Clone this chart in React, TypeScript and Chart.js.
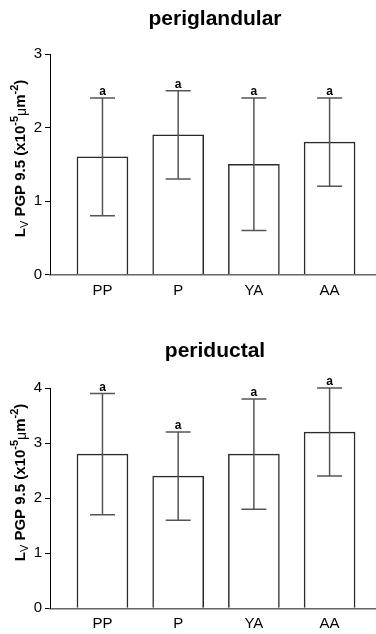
import React, { useEffect, useRef } from "react";
import { Chart, registerables } from "chart.js";

Chart.register(...registerables);

const categories = ["PP", "P", "YA", "AA"];

const periglandularMeans = [1.6, 1.9, 1.5, 1.8];
const periglandularLow = [0.8, 1.3, 0.6, 1.2];
const periglandularHigh = [2.4, 2.5, 2.4, 2.4];
const periglandularLetters = ["a", "a", "a", "a"];
const periglandularTicks = [0, 1, 2, 3];

const periductalMeans = [2.8, 2.4, 2.8, 3.2];
const periductalLow = [1.7, 1.6, 1.8, 2.4];
const periductalHigh = [3.9, 3.2, 3.8, 4.0];
const periductalLetters = ["a", "a", "a", "a"];
const periductalTicks = [0, 1, 2, 3, 4];

const FONT = '"Liberation Sans", Arial, Helvetica, sans-serif';

type PanelProps = {
  title: string;
  means: number[];
  lows: number[];
  highs: number[];
  letters: string[];
  ticks: number[];
  height: number;
  chartTop: number;
  chartBottom: number;
  titleBaseline: number;
  yTitleCenter: number;
};

function drawYTitle(ctx: CanvasRenderingContext2D, cx: number, cy: number) {
  const big = 15;
  const small = 11;
  const segs = [
    { t: "L", font: `bold ${big}px ${FONT}`, dy: 0 },
    { t: "V", font: `${small}px ${FONT}`, dy: 3 },
    { t: " PGP 9.5 (x10", font: `bold ${big}px ${FONT}`, dy: 0 },
    { t: "-5", font: `bold ${small}px ${FONT}`, dy: -7 },
    { t: "\u03bc", font: `${big - 1}px ${FONT}`, dy: 1 },
    { t: "m", font: `bold ${big}px ${FONT}`, dy: 0 },
    { t: "-2", font: `bold ${small}px ${FONT}`, dy: -7 },
    { t: ")", font: `bold ${big}px ${FONT}`, dy: 0 },
  ];
  ctx.save();
  let total = 0;
  const widths = segs.map((s) => {
    ctx.font = s.font;
    const w = ctx.measureText(s.t).width;
    total += w;
    return w;
  });
  ctx.translate(cx, cy);
  ctx.rotate(-Math.PI / 2);
  ctx.fillStyle = "#000";
  ctx.textBaseline = "alphabetic";
  ctx.textAlign = "left";
  let x = -total / 2;
  segs.forEach((s, i) => {
    ctx.font = s.font;
    ctx.fillText(s.t, x, s.dy);
    x += widths[i];
  });
  ctx.restore();
}

function BarPanel(props: PanelProps) {
  const ref = useRef<HTMLCanvasElement | null>(null);
  useEffect(() => {
    const canvas = ref.current;
    if (!canvas) return;
    const {
      title, means, lows, highs, letters, ticks, height,
      chartTop, chartBottom, titleBaseline, yTitleCenter,
    } = props;

    const overlay = {
      id: "overlay",
      afterDatasetsDraw(chart: any) {
        const ctx = chart.ctx as CanvasRenderingContext2D;
        const xs = chart.scales.x;
        const ys = chart.scales.y;
        ctx.save();
        ctx.strokeStyle = "#555";
        ctx.lineWidth = 1.5;
        means.forEach((_, i) => {
          const px = xs.getPixelForValue(i);
          const yl = ys.getPixelForValue(lows[i]);
          const yh = ys.getPixelForValue(highs[i]);
          ctx.beginPath();
          ctx.moveTo(px, yl);
          ctx.lineTo(px, yh);
          ctx.moveTo(px - 12.5, yh);
          ctx.lineTo(px + 12.5, yh);
          ctx.moveTo(px - 12.5, yl);
          ctx.lineTo(px + 12.5, yl);
          ctx.stroke();
          ctx.fillStyle = "#000";
          ctx.font = `bold 12px ${FONT}`;
          ctx.textAlign = "center";
          ctx.textBaseline = "alphabetic";
          ctx.fillText(letters[i], px, yh - 3);
        });
        ctx.restore();
      },
      afterDraw(chart: any) {
        const ctx = chart.ctx as CanvasRenderingContext2D;
        ctx.save();
        ctx.fillStyle = "#000";
        ctx.font = `bold 21px ${FONT}`;
        ctx.textAlign = "center";
        ctx.textBaseline = "alphabetic";
        ctx.fillText(title, 215, titleBaseline);
        ctx.restore();
        drawYTitle(ctx, 25, yTitleCenter);
      },
    };

    const chart = new Chart(canvas, {
      type: "bar",
      data: {
        datasets: [
          {
            data: means.map((v, i) => ({ x: i, y: v })),
            backgroundColor: "#ffffff",
            borderColor: "#2a2a2a",
            borderWidth: 1.5,
            barThickness: 51,
          },
        ],
      },
      options: {
        animation: false,
        responsive: false,
        devicePixelRatio: 1,
        layout: { padding: { top: chartTop, left: 0, right: 0, bottom: 0 } },
        plugins: {
          legend: { display: false },
          tooltip: { enabled: false },
          title: { display: false },
        },
        scales: {
          x: {
            type: "linear",
            offset: false,
            min: -0.693,
            max: 3.613,
            grid: { display: false, drawTicks: false },
            border: { display: true, color: "#666", width: 1.5 },
            afterBuildTicks: (scale: any) => {
              scale.ticks = categories.map((_, i) => ({ value: i }));
            },
            afterFit: (scale: any) => {
              scale.height = height - chartBottom;
            },
            ticks: {
              color: "#000",
              font: { family: FONT, size: 15 },
              padding: 7,
              maxRotation: 0,
              autoSkip: false,
              callback: (v: any) => categories[Math.round(Number(v))] ?? "",
            },
          },
          y: {
            min: 0,
            max: ticks[ticks.length - 1],
            afterBuildTicks: (scale: any) => {
              scale.ticks = ticks.map((v) => ({ value: v }));
            },
            afterFit: (scale: any) => {
              scale.width = 50;
            },
            grid: {
              display: true,
              drawOnChartArea: false,
              drawTicks: true,
              tickLength: 5,
              color: "#000",
              lineWidth: 1,
            },
            border: { display: true, color: "#000", width: 1 },
            ticks: {
              color: "#000",
              font: { family: FONT, size: 15 },
              padding: 3,
              callback: (v: any) => String(v),
            },
          },
        },
      },
      plugins: [overlay],
    } as any);
    return () => chart.destroy();
  }, []);
  return (
    <canvas
      ref={ref}
      width={376}
      height={props.height}
      style={{ display: "block", width: 376, height: props.height }}
    />
  );
}

export default function App() {
  return (
    <div
      style={{
        position: "absolute",
        left: 0,
        top: 0,
        width: 376,
        height: 634,
        background: "#fff",
      }}
    >
      <BarPanel
        title="periglandular"
        means={periglandularMeans}
        lows={periglandularLow}
        highs={periglandularHigh}
        letters={periglandularLetters}
        ticks={periglandularTicks}
        height={317}
        chartTop={54}
        chartBottom={274.5}
        titleBaseline={25}
        yTitleCenter={158.5}
      />
      <BarPanel
        title="periductal"
        means={periductalMeans}
        lows={periductalLow}
        highs={periductalHigh}
        letters={periductalLetters}
        ticks={periductalTicks}
        height={317}
        chartTop={71}
        chartBottom={291.3}
        titleBaseline={40.3}
        yTitleCenter={165.5}
      />
    </div>
  );
}
